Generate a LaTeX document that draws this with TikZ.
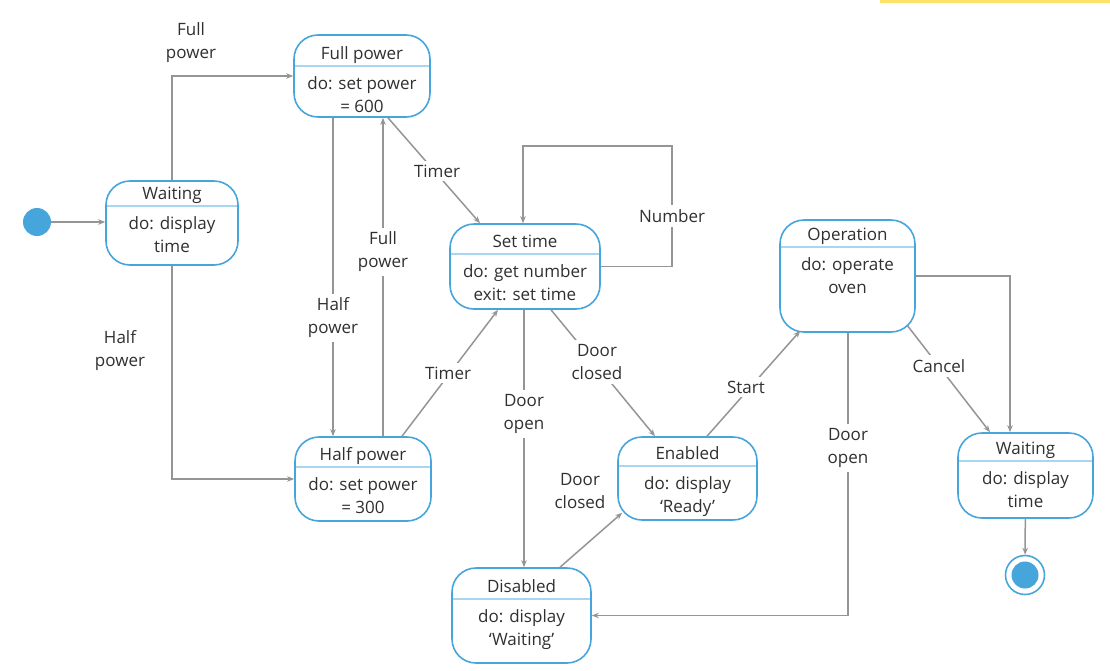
\documentclass[tikz,border=0pt]{standalone}
\usepackage{fontspec}
\setmainfont{Open Sans}
\usepackage{tikz}
\usetikzlibrary{arrows.meta}

\definecolor{stateblue}{HTML}{46A6DC}
\definecolor{splitblue}{HTML}{A8D6F0}
\definecolor{linegray}{HTML}{959595}
\definecolor{textgray}{HTML}{303030}
\definecolor{topyellow}{HTML}{FDE36A}

\begin{document}
\begin{tikzpicture}[x=1pt,y=-1pt,
	font=\fontsize{17}{23}\selectfont, text=textgray,
	state/.style={draw=stateblue, line width=1.6pt, rounded corners=24pt, fill=white, inner sep=0pt},
	split/.style={draw=splitblue, line width=1.4pt},
	edge/.style={draw=linegray, line width=1.5pt, -{Stealth[length=7pt,width=5.5pt]}},
	lbl/.style={fill=white, inner sep=4pt, align=center}]
		\useasboundingbox (0,0) rectangle (1110,670);
		\fill[topyellow] (880,0) rectangle (1110,3);

		\foreach \nm/\lx/\rx/\tp/\bt/\dv/\ttl/\bdy in {
			wait1/106/238/181/265/206/Waiting/{do: display\\time},
			fullp/294/430/35/117/66/Full power/{do: set power\\= 600},
			sett/450/600/224/309/254/Set time/{do: get number\\exit: set time},
			halfp/295/431/437/521/467/Half power/{do: set power\\= 300},
			enab/618/757/437/520/466/Enabled/{do: display\\`Ready'},
			disab/452/591/568/663/599/Disabled/{do: display\\`Waiting'},
			oper/780/915/220/332/247/Operation/{do: operate\\oven},
			wait2/958/1093/433/518/461/Waiting/{do: display\\time}}
		{
			\node[state, minimum width=\rx-\lx, minimum height=\bt-\tp] (\nm) at ({(\lx+\rx)/2},{(\tp+\bt)/2}) {};
			\draw[split] ({\lx+1},\dv) -- ({\rx-1},\dv);
			\node[anchor=base] (\nm-t) at ({(\lx+\rx)/2},{\dv-7}) {\ttl};
			\node[anchor=base, align=center] (\nm-b) at ({(\lx+\rx)/2},{\dv+46}) {\bdy};
		}

		\node[circle, fill=stateblue, minimum size=28pt, inner sep=0pt] (init) at (37,222) {};
		\node[circle, draw=stateblue, line width=1.6pt, fill=white, minimum size=39pt, inner sep=0pt] (fin) at (1025,575) {};
		\fill[stateblue] (fin) circle (13.5);

		\coordinate (loop) at (672,146);

		\draw[edge] (init) -- (init -| wait1.west);
		\draw[edge] (wait1.north) |- (fullp.west);
		\draw[edge] (wait1.south) |- (halfp.west);
		\draw[edge] (fullp.south -| 333,0) -- (halfp.north -| 333,0);
		\draw[edge] (halfp.north -| 383,0) -- (fullp.south -| 383,0);
		\draw[edge] (fullp.south -| 388,0) -- (sett.north -| 480,0);
		\draw[edge] (halfp.north -| 402,0) -- (sett.south -| 498,0);
		\draw[edge] (sett.east) -| (loop) -| (sett.north -| 523,0);
		\draw[edge] (sett.south -| 524,0) -- (disab.north -| 524,0);
		\draw[edge] (sett.south -| 551,0) -- (enab.north -| 655,0);
		\draw[edge] (disab.north -| 560,0) -- ([shift={(5,-8)}]enab.south west);
		\draw[edge] (enab.north -| 707,0) -- ([shift={(21,-2)}]oper.south west);
		\draw[edge] (oper.south -| 848,0) |- (disab.east);
		\draw[edge] (oper.east) -| (wait2.north -| 1010,0);
		\draw[edge] ([shift={(-9,-8)}]oper.south east) -- (wait2.north -| 990,0);
		\draw[edge] (wait2) -- (fin);

		\node[lbl] (l-full1) at (191,43) {Full\\power};
		\node[lbl] (l-half1) at (120,351) {Half\\power};
		\node[lbl] (l-half2) at (333,318) {Half\\power};
		\node[lbl] (l-full2) at (383,252) {Full\\power};
		\node[lbl] (l-timer1) at (437,171) {Timer};
		\node[lbl] (l-timer2) at (448,373) {Timer};
		\node[lbl] (l-number) at (672,216) {Number};
		\node[lbl] (l-open1) at (524,414) {Door\\open};
		\node[lbl] (l-closed1) at (597,362) {Door\\closed};
		\node[lbl] (l-closed2) at (580,491) {Door\\closed};
		\node[lbl] (l-start) at (746,387) {Start};
		\node[lbl] (l-open2) at (848,448) {Door\\open};
		\node[lbl] (l-cancel) at (939,366) {Cancel};
	    \end{tikzpicture}
\end{document}
